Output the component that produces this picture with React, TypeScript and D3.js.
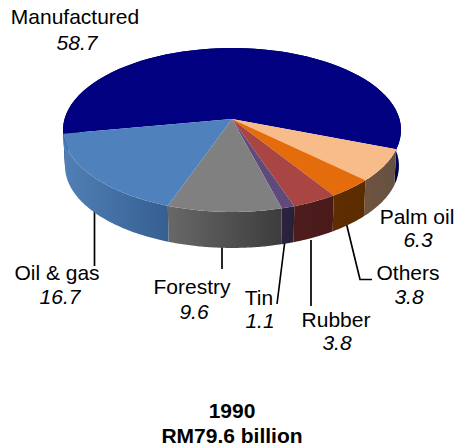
import React from "react";
import * as d3 from "d3";

const categories = ["Palm oil", "Others", "Rubber", "Tin", "Forestry", "Oil & gas", "Manufactured"];
const values = [6.3, 3.8, 3.8, 1.1, 9.6, 16.7, 58.7];
const topColors = ["#F8BC8A", "#E46C0A", "#A94643", "#604A7B", "#808080", "#4F81BD", "#000080"];
const wallFrom = ["#6E5440", "#5E2E00", "#4E1C1C", "#2C2340", "#686868", "#5080B6", "#000050"];
const wallTo = ["#665040", "#5A2C00", "#4A1A1A", "#282038", "#3C3C3C", "#365F91", "#000040"];

const labels = [
  { name: "Manufactured", value: "58.7", x: 75, y: 24, vx: 77, vy: 50 },
  { name: "Oil & gas", value: "16.7", x: 57, y: 280, vx: 60, vy: 304 },
  { name: "Forestry", value: "9.6", x: 192, y: 294, vx: 194, vy: 319 },
  { name: "Tin", value: "1.1", x: 259, y: 305, vx: 260, vy: 328 },
  { name: "Rubber", value: "3.8", x: 336, y: 327, vx: 337, vy: 350 },
  { name: "Others", value: "3.8", x: 408, y: 280, vx: 409, vy: 304 },
  { name: "Palm oil", value: "6.3", x: 417, y: 224, vx: 418, vy: 247 },
];
const leaders = [
  [[94.5, 210], [94.5, 266]],
  [[222, 245], [222, 269]],
  [[285, 240], [277, 304]],
  [[311, 240], [311, 306]],
  [[346, 222], [360, 279.5], [372, 279.5]],
];

const titleLines = ["1990", "RM79.6 billion"];

const CX = 232, CY = 119, A = 167.5, B = 80.5, K = 0.134, DEPTH = 36;

function project(a: number, shrink = 1, dy = 0): [number, number] {
  const X = Math.sin(a), Y = -Math.cos(a);
  const d = 1 - K * Y;
  return [CX + (A * shrink * X) / d, CY + dy + (B * Y) / d];
}

export default function App() {
  const start = (111 * Math.PI) / 180;
  const arcs = d3.pie<number>().sort(null).startAngle(start).endAngle(start + 2 * Math.PI)(values);
  const rim = (a0: number, a1: number, shrink = 1, dy = 0) =>
    d3.range(0, 61).map((i) => project(a0 + ((a1 - a0) * i) / 60, shrink, dy));
  const line = d3.line();
  const order = [6, 0, 1, 2, 3, 4, 5];
  return (
    <svg width={458} height={446} style={{ position: "absolute", left: 0, top: 0 }} fontFamily="'Liberation Sans', Arial, sans-serif" fontSize={21}>
      <defs>
        {arcs.map((d, i) => {
          const p0 = project(d.startAngle), p1 = project(d.endAngle);
          return (
            <linearGradient key={i} id={`w${i}`} gradientUnits="userSpaceOnUse" x1={p1[0]} x2={p0[0]} y1={0} y2={0}>
              <stop offset="0" stopColor={wallFrom[i]} />
              <stop offset="1" stopColor={wallTo[i]} />
            </linearGradient>
          );
        })}
      </defs>
      {leaders.map((l, i) => (
        <path key={i} d={line(l as [number, number][]) ?? ""} fill="none" stroke="#000" strokeWidth={1.7} />
      ))}
      {order.map((i) => {
        const d = arcs[i];
        const pts = [...rim(d.startAngle, d.endAngle), ...rim(d.endAngle, d.startAngle, 0.988, DEPTH)];
        return <path key={i} d={(line(pts) ?? "") + "Z"} fill={`url(#w${i})`} />;
      })}
      {order.map((i) => {
        const d = arcs[i];
        const pts = [[CX, CY] as [number, number], ...rim(d.startAngle, d.endAngle)];
        return <path key={i} d={(line(pts) ?? "") + "Z"} fill={topColors[i]} />;
      })}
      {labels.map((l, i) => (
        <g key={i} textAnchor="middle" fill="#000">
          <text x={l.x} y={l.y}>{l.name}</text>
          <text x={l.vx} y={l.vy} fontStyle="italic">{l.value}</text>
        </g>
      ))}
      {titleLines.map((t, i) => (
        <text key={i} x={232} y={418 + i * 25} textAnchor="middle" fontWeight="bold">{t}</text>
      ))}
    </svg>
  );
}
